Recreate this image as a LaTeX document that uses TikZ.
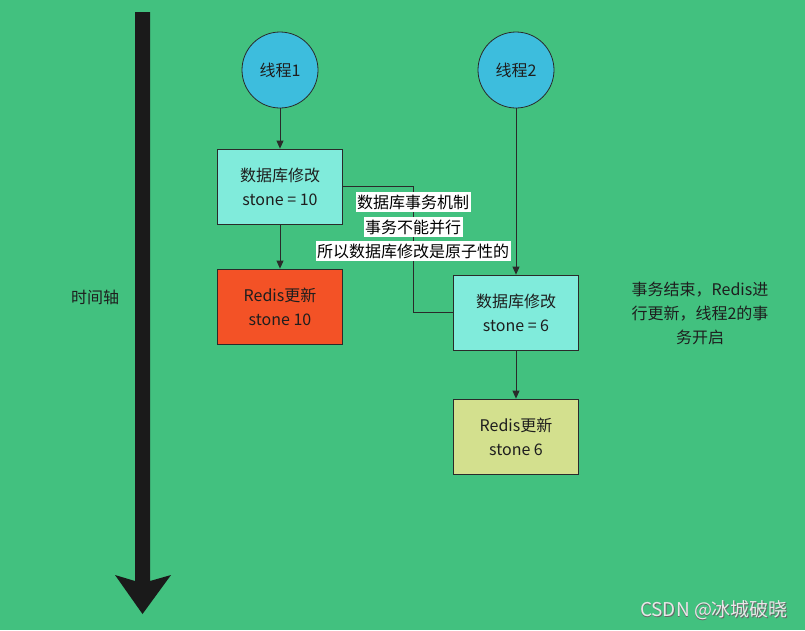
\documentclass[tikz,border=0pt]{standalone}
\usepackage{fontspec}
\setmainfont{Noto Sans CJK SC}
\usetikzlibrary{arrows.meta}
\definecolor{bg}{HTML}{42C17F}
\definecolor{linec}{HTML}{2A2A2A}
\definecolor{circ}{HTML}{3DBDDD}
\definecolor{aqua}{HTML}{80EBDB}
\definecolor{redbox}{HTML}{F35226}
\definecolor{yelbox}{HTML}{D3E08E}
\definecolor{axisc}{HTML}{1A1A1A}
\definecolor{txt}{HTML}{1E1E1E}
\definecolor{wm}{HTML}{E8E8E8}
\begin{document}
\begin{tikzpicture}[x=1pt,y=-1pt,
  font=\fontsize{16}{24}\selectfont, text=txt,
  box/.style={draw=linec, line width=0.8pt, minimum width=125pt, minimum height=75pt, align=center, inner sep=0pt},
  thread/.style={circle, draw=linec, line width=0.8pt, fill=circ, minimum size=76pt, inner sep=0pt},
  conn/.style={draw=linec, line width=0.8pt},
  arr/.style={conn, -{Triangle[length=8pt,width=7pt]}},
  lbl/.style={fill=white, inner xsep=1.5pt, inner ysep=2.5pt, text=black}]
\fill[bg] (0,0) rectangle (805,630);
\useasboundingbox (0,0) rectangle (805,630);
% time axis
\fill[axisc] (135,12) -- (150,12) -- (150,581) -- (171,575) -- (142.5,614) -- (115,575) -- (135,581) -- cycle;
\node (axislbl) at (95,297) {时间轴};
% threads
\node[thread] (t1) at (280,70) {线程1};
\node[thread] (t2) at (516,70) {线程2};
% boxes
\node[box, fill=aqua] (b1) at (280,186.5) {数据库修改\\stone = 10};
\node[box, fill=redbox] (b2) at (280,306.5) {Redis更新\\stone 10};
\node[box, fill=aqua] (b3) at (516,312.5) {数据库修改\\stone = 6};
\node[box, fill=yelbox] (b4) at (516,436.5) {Redis更新\\stone 6};
% arrows
\draw[arr] (t1) -- (b1);
\draw[arr] (b1) -- (b2);
\draw[arr] (t2) -- (b3);
\draw[arr] (b3) -- (b4);
% transaction connector
\draw[conn] (b1.east) -- (413,186.5) |- (b3.west);
\node[lbl] (l1) at (413,202) {数据库事务机制};
\node[lbl] (l2) at (413,227) {事务不能并行};
\node[lbl] (l3) at (413,251) {所以数据库修改是原子性的};
% right note
\node[align=center] (note) at (700,313) {事务结束，Redis进\\行更新，线程2的事\\务开启};
% watermark
\node[text=black!60, font=\fontsize{19}{22}\selectfont] at (714.8,610.8) {CSDN @冰城破晓};
\node[text=wm, font=\fontsize{19}{22}\selectfont] (wmk) at (714,610) {CSDN @冰城破晓};
\end{tikzpicture}
\end{document}
